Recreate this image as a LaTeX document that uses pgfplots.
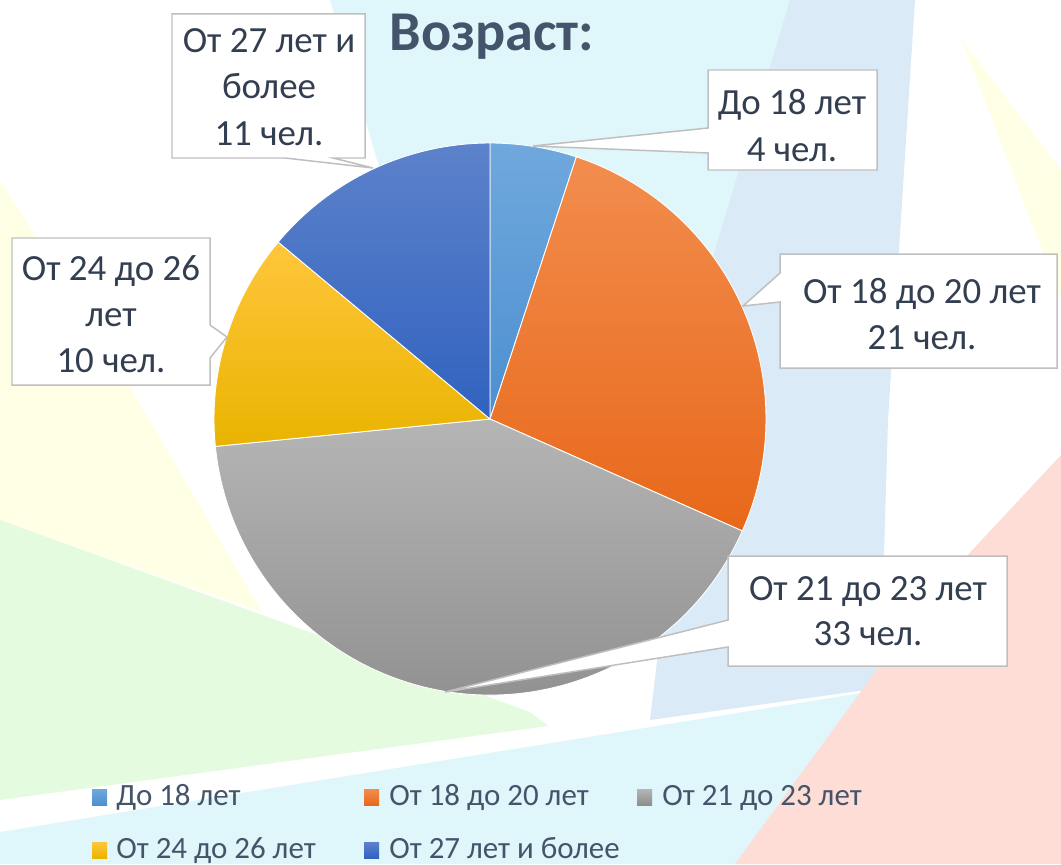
\documentclass[border=0pt]{standalone}
\usepackage{pgfplots}
\pgfplotsset{compat=1.18}
\usepackage{fontspec}
\setmainfont{Carlito}
\definecolor{titlec}{HTML}{44546A}
\definecolor{labc}{HTML}{333F50}
\definecolor{legc}{HTML}{44546A}
\definecolor{boxc}{HTML}{BFBFBF}
\definecolor{bgcyan}{HTML}{DFF7FA}
\definecolor{bgblue}{HTML}{DAEBF7}
\definecolor{bggreen}{HTML}{E5FBE0}
\definecolor{bgyellow}{HTML}{FFFFE5}
\definecolor{bgpink}{HTML}{FDDDD6}
% slice colours (top / bottom of gradient)
\definecolor{aT}{HTML}{70A8DD}\definecolor{aB}{HTML}{4C8FD0}
\definecolor{bT}{HTML}{F28D4E}\definecolor{bB}{HTML}{E8681A}
\definecolor{cT}{HTML}{B5B5B5}\definecolor{cB}{HTML}{8D8D8D}
\definecolor{dT}{HTML}{FFC63C}\definecolor{dB}{HTML}{E9B400}
\definecolor{eT}{HTML}{5D82CB}\definecolor{eB}{HTML}{3062BF}

\newcommand\lab[3]{\node[anchor=base,inner sep=0pt,text=labc,font=\fontsize{21}{25}\selectfont] at (#1,#2) {#3};}
\newcommand\slice[4]{\shade[top color=#3,bottom color=#4,draw=white,line width=0.5pt]
  (490,419) -- ++(#1:\R) arc[start angle=#1,end angle=#2,radius=\R] -- cycle;}

\begin{document}
\begin{tikzpicture}
% counts per age group
\def\vA{4}\def\vB{21}\def\vC{33}\def\vD{10}\def\vE{11}
\pgfmathsetmacro\tot{\vA+\vB+\vC+\vD+\vE}
\pgfmathsetmacro\angA{90}
\pgfmathsetmacro\angB{\angA-360*\vA/\tot}
\pgfmathsetmacro\angC{\angB-360*\vB/\tot}
\pgfmathsetmacro\angD{\angC-360*\vC/\tot}
\pgfmathsetmacro\angE{\angD-360*\vD/\tot}
\pgfmathsetmacro\angF{\angE-360*\vE/\tot}
\def\R{5.52cm}
\begin{axis}[
    width=21.22cm, height=17.28cm, scale only axis,
    xmin=0, xmax=1061, ymin=0, ymax=864, y dir=reverse,
    hide axis, clip=false,
]
% background
\fill[white] (0,0) rectangle (1061,864);
\fill[bgcyan] (330,0) -- (795,0) -- (735,280) -- (600,470) -- (380,170) -- cycle;
\fill[bgblue] (790,0) -- (915,0) -- (888,420) -- (880,688) -- (650,720) -- (700,300) -- cycle;
\fill[bgyellow] (962,40) -- (1061,170) -- (1061,300) -- cycle;
\fill[bgyellow] (0,180) -- (120,370) -- (262,612) -- (0,520) -- cycle;
\fill[bggreen] (0,520) -- (530,712) -- (548,726) -- (0,800) -- cycle;
\fill[bgcyan] (0,832) -- (880,690) -- (960,660) -- (790,864) -- (0,864) -- cycle;
\fill[bgpink] (1061,455) -- (1061,864) -- (735,864) -- (935,590) -- cycle;

% pie
\slice{\angA}{\angB}{aT}{aB}
\slice{\angB}{\angC}{bT}{bB}
\slice{\angC}{\angD}{cT}{cB}
\slice{\angD}{\angE}{dT}{dB}
\slice{\angE}{\angF}{eT}{eB}

% title
\node[anchor=base,inner sep=0pt,text=titlec,font=\fontsize{32}{38}\selectfont\bfseries] at (492,51) {Возраст:};

% callouts
\begin{scope}[fill=white,draw=boxc,line width=0.85pt]
\filldraw (172,14) -- (365,14) -- (365,158) -- (333,158) -- (373,168) -- (285,158) -- (172,158) -- cycle;
\filldraw (708,70) -- (877,70) -- (877,170) -- (708,170) -- (708,153) -- (533,146) -- (708,128) -- cycle;
\filldraw (780,254) -- (1057,254) -- (1057,368) -- (780,368) -- (780,302) -- (743,306) -- (780,273) -- cycle;
\filldraw (12,238) -- (210,238) -- (210,325) -- (227,337) -- (210,358) -- (210,385) -- (12,385) -- cycle;
\filldraw (728,556) -- (1007,556) -- (1007,666) -- (728,666) -- (728,647) -- (445,692) -- (728,620) -- cycle;
\end{scope}
\lab{269}{53}{От 27 лет и}
\lab{269}{99}{более}
\lab{269}{145}{11 чел.}
\lab{792}{115}{До 18 лет}
\lab{792}{161}{4 чел.}
\lab{922}{303}{От 18 до 20 лет}
\lab{922}{349}{21 чел.}
\lab{111}{280}{От 24 до 26}
\lab{111}{326}{лет}
\lab{111}{372}{10 чел.}
\lab{868}{600}{От 21 до 23 лет}
\lab{868}{645}{33 чел.}

% legend
\begin{scope}[every node/.style={anchor=base west,inner sep=0pt,text=legc,font=\fontsize{17.6}{21}\selectfont}]
\shade[top color=aT,bottom color=aB] (92,789) rectangle (107,805);
\node at (116,805) {До 18 лет};
\shade[top color=bT,bottom color=bB] (364,789) rectangle (379,805);
\node at (389,805) {От 18 до 20 лет};
\shade[top color=cT,bottom color=cB] (637,789) rectangle (652,805);
\node at (662,805) {От 21 до 23 лет};
\shade[top color=dT,bottom color=dB] (92,842) rectangle (107,858);
\node at (116,858) {От 24 до 26 лет};
\shade[top color=eT,bottom color=eB] (364,842) rectangle (379,858);
\node at (389,858) {От 27 лет и более};
\end{scope}
\end{axis}
\pgfresetboundingbox
\useasboundingbox (current axis.south west) rectangle (current axis.north east);
\end{tikzpicture}
\end{document}
